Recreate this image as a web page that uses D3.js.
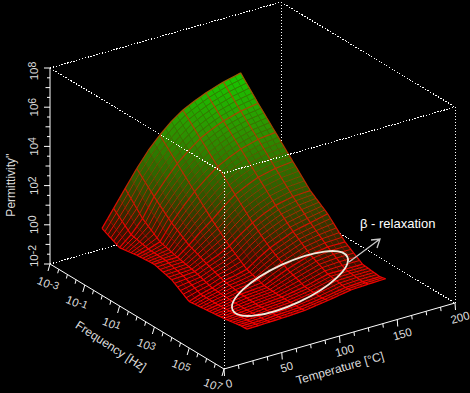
<!DOCTYPE html>
<html>
<head>
<meta charset="utf-8">
<style>
    html, body { margin: 0; padding: 0; background: #000; }
    svg { display: block; }
    text { font-family: "Liberation Sans", Arial, sans-serif; fill: #dcdcdc; }
</style>
<script src="https://cdnjs.cloudflare.com/ajax/libs/d3/7.8.5/d3.min.js"></script>
</head>
<body>
<svg id="chart" width="470" height="393"></svg>
<script>
// log10(frequency), temperature and log10(permittivity'')
const freqLines = [-2, -1, 0, 1, 2, 3, 4, 5, 6, 6.33];
const tempLines = [30, 40, 50, 60, 70, 80, 90, 100, 110, 120, 135, 150];
const coarseTemps = [30, 40, 50, 60, 80, 100, 120, 135, 150];
const perm030 = [-0.15, -0.60, -0.45, -0.38, -0.63, -1.20, -1.10, -1.00, -0.85, -0.83];
const perm040 = [0.70, -0.10, -0.30, -0.35, -0.60, -1.00, -1.00, -0.95, -0.85, -0.82];
const perm050 = [1.55, 0.55, -0.10, -0.35, -0.55, -0.85, -0.90, -0.90, -0.85, -0.80];
const perm060 = [2.40, 1.50, 0.70, 0.10, -0.30, -0.65, -0.80, -0.85, -0.80, -0.78];
const perm070 = [3.15, 2.20, 1.35, 0.60, -0.05, -0.55, -0.75, -0.80, -0.78, -0.75];
const perm080 = [3.77, 2.85, 1.95, 1.05, 0.25, -0.40, -0.70, -0.75, -0.75, -0.72];
const perm090 = [4.30, 3.35, 2.45, 1.55, 0.70, 0.00, -0.45, -0.65, -0.68, -0.63];
const perm100 = [4.71, 3.80, 2.90, 2.00, 1.10, 0.35, -0.20, -0.55, -0.60, -0.55];
const perm110 = [5.00, 4.10, 3.20, 2.30, 1.40, 0.60, 0.00, -0.40, -0.50, -0.45];
const perm120 = [5.25, 4.35, 3.45, 2.55, 1.65, 0.85, 0.20, -0.25, -0.40, -0.35];
const perm135 = [5.55, 4.60, 3.70, 2.75, 1.85, 1.05, 0.35, -0.25, -0.35, -0.30];
const perm150 = [5.76, 4.75, 3.80, 2.85, 1.90, 1.25, 0.35, -0.25, -0.35, -0.28];
const permRows = [perm030, perm040, perm050, perm060, perm070, perm080, perm090, perm100, perm110, perm120, perm135, perm150];

const permTicks = [-2, 0, 2, 4, 6, 8];
const freqTicks = [-3, -1, 1, 3, 5, 7];
const tempTicks = [0, 50, 100, 150, 200];

const svg = d3.select('#chart');
svg.append('rect').attr('width', 470).attr('height', 393).attr('fill', '#000');

// the box is drawn without perspective: one pixel vector per axis
const origin = [50, 264];
const freqScale = d3.scaleLinear().domain([-3, 7]).range([[0, 0], [174, 105]]);
const tempScale = d3.scaleLinear().domain([0, 200]).range([[0, 0], [231, -66]]);
const permScale = d3.scaleLinear().domain([-2, 8]).range([[0, 0], [0, -196]]);

function project(f, t, p) {
    const a = freqScale(f), b = tempScale(t), c = permScale(p);
    return [origin[0] + a[0] + b[0] + c[0], origin[1] + a[1] + b[1] + c[1]];
}

const fillColour = d3.scaleLinear()
    .domain([-1, 0, 2, 4, 6])
    .range(['#3c0000', '#3a1400', '#2f5a00', '#2c9400', '#14d000']);
const fineColour = d3.scaleLinear()
    .domain([-0.7, 0.2, 2, 4, 6])
    .range(['#ff0000', '#dc1000', '#8a4000', '#3f7000', '#2f8800']);
const coarseColour = d3.scaleLinear()
    .domain([-1, 0, 2, 4, 6])
    .range(['#ff0000', '#f80000', '#c82400', '#b04000', '#a85800']);

function boxLine(a, b, dotted) {
    const p0 = project(a[0], a[1], a[2]), p1 = project(b[0], b[1], b[2]);
    svg.append('line')
        .attr('x1', p0[0]).attr('y1', p0[1])
        .attr('x2', p1[0]).attr('y2', p1[1])
        .attr('stroke', '#fff')
        .attr('stroke-width', 1)
        .attr('shape-rendering', dotted ? 'crispEdges' : null)
        .attr('stroke-dasharray', dotted ? '1.5 1.5' : null);
}

// back of the box goes under the surface
boxLine([-3, 0, -2], [-3, 200, -2], true);
boxLine([-3, 200, -2], [7, 200, -2], true);
boxLine([-3, 200, -2], [-3, 200, 8], true);
boxLine([-3, 0, 8], [-3, 200, 8], true);
boxLine([-3, 200, 8], [7, 200, 8], true);

// the ruling inside each read cell is only surface shading, the values stay the table above
function subdivide(lines, size, isCoarse) {
    const out = [];
    lines.slice(1).forEach((v, i) => {
        const n = Math.max(1, Math.round(Math.abs(v - lines[i]) / size));
        d3.range(n).forEach(k => out.push({ value: lines[i] + (v - lines[i]) * k / n, coarse: k === 0 && isCoarse(lines[i]) }));
    });
    out.push({ value: lines[lines.length - 1], coarse: true });
    return out;
}

function permAt(f, t) {
    const fi = Math.min(d3.bisectRight(freqLines, f) - 1, freqLines.length - 2);
    const ti = Math.min(d3.bisectRight(tempLines, t) - 1, tempLines.length - 2);
    const fx = (f - freqLines[fi]) / (freqLines[fi + 1] - freqLines[fi]);
    const tx = (t - tempLines[ti]) / (tempLines[ti + 1] - tempLines[ti]);
    const low = d3.interpolate(permRows[ti][fi], permRows[ti][fi + 1])(fx);
    const high = d3.interpolate(permRows[ti + 1][fi], permRows[ti + 1][fi + 1])(fx);
    return d3.interpolate(low, high)(tx);
}

const fRuled = subdivide(freqLines, 0.17, () => true);
const tRuled = subdivide(tempLines, 5, t => coarseTemps.includes(t));
const surface = svg.append('g');

// painted from the back corner forward
d3.range(tRuled.length - 2, -1, -1).forEach(ti => {
    d3.range(0, fRuled.length - 1).forEach(fi => {
        const t0 = tRuled[ti].value, t1 = tRuled[ti + 1].value;
        const f0 = fRuled[fi].value, f1 = fRuled[fi + 1].value;
        const pts = [[f0, t0], [f1, t0], [f1, t1], [f0, t1]]
            .map(d => project(d[0], d[1], permAt(d[0], d[1])));
        const mean = permAt((f0 + f1) / 2, (t0 + t1) / 2);
        surface.append('path')
            .attr('d', d3.line()(pts) + 'Z')
            .attr('fill', fillColour(mean))
            .attr('stroke', fillColour(mean))
            .attr('stroke-width', 0.4);
    });
});

// const temperature lines, then const frequency lines, fine first and coarse on top
function segments(outer, inner, toPoint, keep, width, colour, opacity) {
    outer.filter(keep).forEach(o => {
        inner.slice(1).forEach((d, i) => {
            const a = toPoint(o.value, inner[i].value), b = toPoint(o.value, d.value);
            surface.append('line')
                .attr('x1', a.xy[0]).attr('y1', a.xy[1])
                .attr('x2', b.xy[0]).attr('y2', b.xy[1])
                .attr('stroke', colour((a.p + b.p) / 2))
                .attr('stroke-width', width)
                .attr('stroke-opacity', opacity);
        });
    });
}
const byTemp = (t, f) => ({ xy: project(f, t, permAt(f, t)), p: permAt(f, t) });
const byFreq = (f, t) => ({ xy: project(f, t, permAt(f, t)), p: permAt(f, t) });

segments(tRuled, fRuled, byTemp, d => !d.coarse, 0.7, fineColour, 0.7);
segments(fRuled, tRuled, byFreq, d => !d.coarse, 1, fineColour, 1);
segments(tRuled, fRuled, byTemp, d => d.coarse, 1.2, coarseColour, 0.95);
segments(fRuled, tRuled, byFreq, d => d.coarse, 1.2, coarseColour, 0.95);

// front of the box sits over the surface
boxLine([-3, 0, 8], [7, 0, 8], true);
boxLine([7, 0, 8], [7, 200, 8], true);
boxLine([7, 0, -2], [7, 0, 8], true);
boxLine([7, 200, -2], [7, 200, 8], true);
boxLine([-3, 0, -2], [-3, 0, 8], false);
boxLine([-3, 0, -2], [7, 0, -2], false);
boxLine([7, 0, -2], [7, 200, -2], false);

function tick(p0, dx, dy) {
    svg.append('line')
        .attr('x1', p0[0]).attr('y1', p0[1])
        .attr('x2', p0[0] + dx).attr('y2', p0[1] + dy)
        .attr('stroke', '#fff')
        .attr('stroke-width', 1);
}

d3.range(-2, 8.01, 0.5).forEach(p => {
    tick(project(-3, 0, p), permTicks.includes(p) ? -6 : (Number.isInteger(p) ? -4.5 : -3), 0);
});
d3.range(-3, 7.01, 0.5).forEach(f => {
    tick(project(f, 0, -2), freqTicks.includes(f) ? -2 : -1, freqTicks.includes(f) ? 7 : 4);
});
d3.range(0, 200.01, 12.5).forEach(t => {
    tick(project(7, t, -2), 0.5, tempTicks.includes(t) ? 7 : 4);
});

function powerLabel(x, y, angle, power) {
    const label = svg.append('text')
        .attr('transform', `translate(${x},${y}) rotate(${angle})`)
        .attr('text-anchor', 'middle')
        .attr('dy', '0.35em')
        .attr('font-size', 11.5);
    label.append('tspan').text('10');
    label.append('tspan').attr('font-size', 10.5).attr('dy', -2).text(power);
}

permTicks.forEach(p => {
    const pos = project(-3, 0, p);
    const shift = p === 8 ? 3 : (p === -2 ? -8 : 0);
    powerLabel(33.5, pos[1] + shift, -90, p);
});
freqTicks.forEach(f => {
    const pos = project(f, 0, -2);
    const dx = f === 7 ? -11 : (f === -3 ? -2 : -8);
    const dy = f === 7 ? 16 : (f === -3 ? 20 : 18);
    powerLabel(pos[0] + dx, pos[1] + dy, 22, f);
});
tempTicks.forEach(t => {
    const pos = project(7, t, -2);
    svg.append('text')
        .attr('transform', `translate(${pos[0] + 5},${pos[1] + 14.5}) rotate(-16)`)
        .attr('text-anchor', 'middle')
        .attr('dy', '0.35em')
        .attr('font-size', 11.5)
        .text(t);
});

function axisTitle(x, y, angle, label) {
    svg.append('text')
        .attr('transform', `translate(${x},${y}) rotate(${angle})`)
        .attr('text-anchor', 'middle')
        .attr('dy', '0.35em')
        .attr('font-size', 12)
        .text(label);
}
axisTitle(11, 185, -90, "Permittivity''");
axisTitle(111, 346, 33, 'Frequency [Hz]');
axisTitle(340, 368, -16, 'Temperature [\u00b0C]');

// beta relaxation note
svg.append('ellipse')
    .attr('transform', 'translate(290,283.5) rotate(-24.9)')
    .attr('rx', 63.2)
    .attr('ry', 20.5)
    .attr('fill', 'none')
    .attr('stroke', '#f0eadc')
    .attr('stroke-width', 1.8);
svg.append('path')
    .attr('d', 'M349,262L380,239M371,240L380,239L377,248')
    .attr('fill', 'none')
    .attr('stroke', '#c8c8c8')
    .attr('stroke-width', 1.3);
svg.append('text')
    .attr('x', 360)
    .attr('y', 228)
    .attr('font-size', 13)
    .style('fill', '#fff')
    .text('\u03b2 - relaxation');
</script>
</body>
</html>
